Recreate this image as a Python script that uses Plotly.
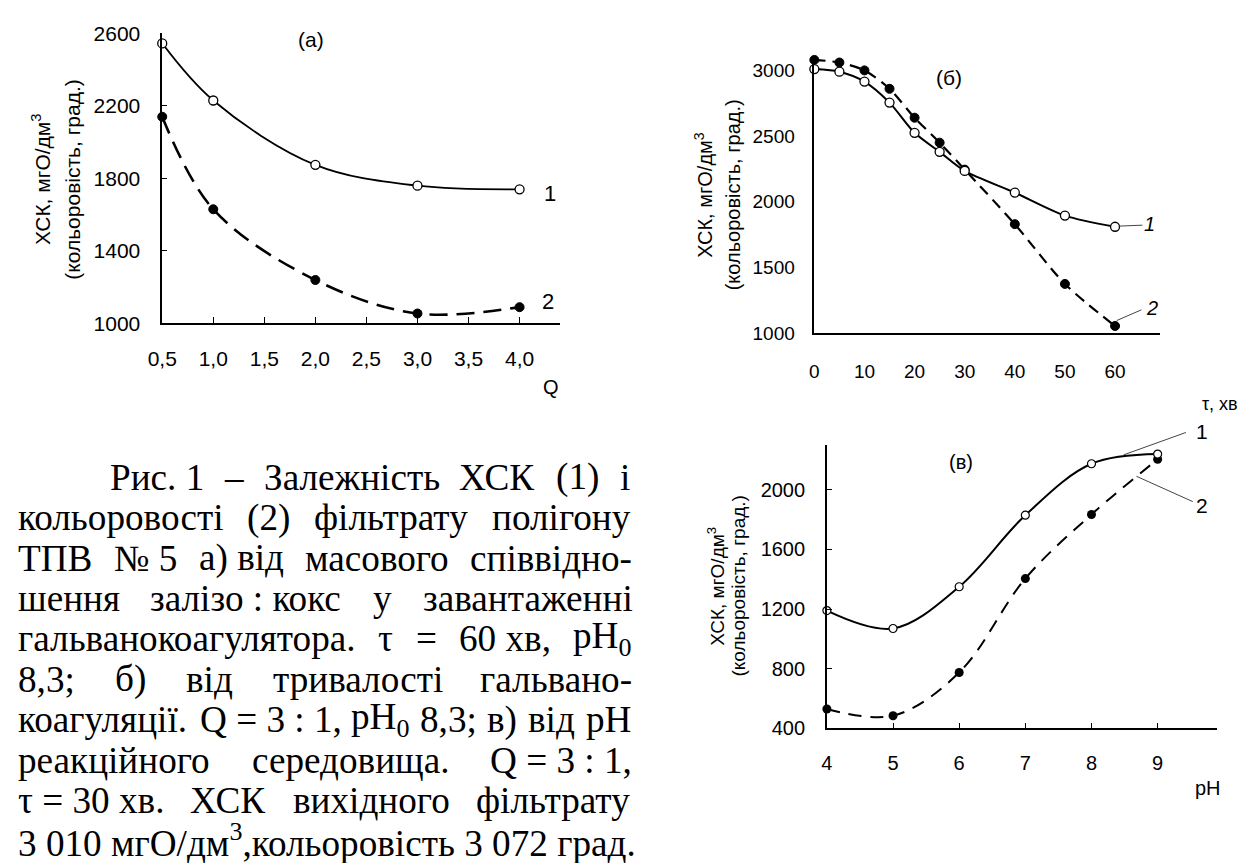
import glob
import struct
import plotly.graph_objects as go

# ---------------- data ----------------
q_vals = [0.5, 1.0, 2.0, 3.0, 4.0]
a_xck = [2545, 2230, 1875, 1760, 1740]
a_color = [2140, 1630, 1240, 1055, 1090]
q_ticks = [0.5, 1.0, 1.5, 2.0, 2.5, 3.0, 3.5, 4.0]
a_yticks = [1000, 1400, 1800, 2200, 2600]

tau_vals = [0, 5, 10, 15, 20, 25, 30, 40, 50, 60]
b_xck = [3010, 2990, 2915, 2755, 2525, 2380, 2235, 2070, 1895, 1810]
b_color = [3080, 3060, 3000, 2860, 2640, 2450, 2245, 1830, 1375, 1055]
tau_ticks = [0, 10, 20, 30, 40, 50, 60]
b_yticks = [1000, 1500, 2000, 2500, 3000]

ph_vals = [4, 5, 6, 7, 8, 9]
v_xck = [1190, 1070, 1350, 1830, 2175, 2240]
v_color = [530, 485, 775, 1405, 1835, 2205]
ph_ticks = [4, 5, 6, 7, 8, 9]
v_yticks = [400, 800, 1200, 1600, 2000]

ytitle1 = "ХСК, мгО/дм<sup>3</sup>"
ytitle2 = "(кольоровість, град.)"

# caption: word groups of each justified line (last line is left aligned)
caption_lines = [
    ["Рис. 1", "–", "Залежність", "ХСК", "(1)", "і"],
    ["кольоровості", "(2)", "фільтрату", "полігону"],
    ["ТПВ", "№ 5", "а) від", "масового", "співвідно-"],
    ["шення", "залізо : кокс", "у", "завантаженні"],
    ["гальванокоагулятора.", "τ", "=", "60 хв,", "pH<sub>0</sub>"],
    ["8,3;", "б)", "від", "тривалості", "гальвано-"],
    ["коагуляції.", "Q = 3 : 1,", "pH<sub>0</sub>", "8,3;", "в)", "від", "pH"],
    ["реакційного", "середовища.", "Q = 3 : 1,"],
    ["τ = 30 хв.", "ХСК", "вихідного", "фільтрату"],
    ["3 010 мгО/дм<sup>3</sup>,кольоровість 3 072 град."],
]

# ---------------- helpers ----------------
W, H = 1256, 863
SANS = "Liberation Sans, Arial, sans-serif"
SERIF = "Liberation Serif, Times New Roman, serif"


def px(x):
    return x / W


def py(y):
    return 1 - y / H


def fmt_comma(v):
    return f"{v:.1f}".replace(".", ",")


def parse_ttf(path):
    data = open(path, "rb").read()
    num = struct.unpack(">H", data[4:6])[0]
    tables = {}
    for i in range(num):
        off = 12 + 16 * i
        tag = data[off:off + 4].decode("latin-1")
        _, offset, length = struct.unpack(">III", data[off + 4:off + 16])
        tables[tag] = offset
    head = tables["head"]
    upem = struct.unpack(">H", data[head + 18:head + 20])[0]
    hhea = tables["hhea"]
    nhm = struct.unpack(">H", data[hhea + 34:hhea + 36])[0]
    hm = tables["hmtx"]
    adv = [struct.unpack(">H", data[hm + 4 * i:hm + 4 * i + 2])[0] for i in range(nhm)]
    cm = tables["cmap"]
    n = struct.unpack(">H", data[cm + 2:cm + 4])[0]
    sub = None
    for i in range(n):
        pid, eid, so = struct.unpack(">HHI", data[cm + 4 + 8 * i:cm + 12 + 8 * i])
        fmt = struct.unpack(">H", data[cm + so:cm + so + 2])[0]
        if pid == 3 and eid == 1 and fmt == 4:
            sub = cm + so
    segx2 = struct.unpack(">H", data[sub + 6:sub + 8])[0]
    seg = segx2 // 2
    ends = struct.unpack(">%dH" % seg, data[sub + 14:sub + 14 + segx2])
    so_ = sub + 16 + segx2
    starts = struct.unpack(">%dH" % seg, data[so_:so_ + segx2])
    do_ = so_ + segx2
    deltas = struct.unpack(">%dh" % seg, data[do_:do_ + segx2])
    ro_ = do_ + segx2
    ros = struct.unpack(">%dH" % seg, data[ro_:ro_ + segx2])

    def width(c):
        code = ord(c)
        g = 0
        for k in range(seg):
            if starts[k] <= code <= ends[k]:
                if ros[k] == 0:
                    g = (code + deltas[k]) & 0xFFFF
                else:
                    addr = ro_ + 2 * k + ros[k] + 2 * (code - starts[k])
                    gg = struct.unpack(">H", data[addr:addr + 2])[0]
                    g = (gg + deltas[k]) & 0xFFFF if gg else 0
                break
        a = adv[g] if g < nhm else adv[-1]
        return a / upem

    return width


char_w = None
for pat in ["/usr/share/fonts/**/LiberationSerif-Regular.ttf", "/usr/**/LiberationSerif-Regular.ttf"]:
    for path in glob.glob(pat, recursive=True):
        try:
            char_w = parse_ttf(path)
            break
        except Exception:
            char_w = None
    if char_w:
        break
if char_w is None:
    def char_w(c):
        return 0.25 if c == " " else 0.5


def text_em(s):
    total, scale, i = 0.0, 1.0, 0
    while i < len(s):
        if s.startswith("<sub>", i) or s.startswith("<sup>", i):
            scale = 0.7
            i += 5
            continue
        if s.startswith("</sub>", i) or s.startswith("</sup>", i):
            scale = 1.0
            i += 6
            continue
        total += char_w(s[i]) * scale
        i += 1
    return total


fig = go.Figure()

open_marker = dict(symbol="circle", size=9, color="white", line=dict(color="black", width=1.3))
fill_marker = dict(symbol="circle", size=9, color="black", line=dict(color="black", width=1))

# (a)
fig.add_trace(go.Scatter(x=q_vals, y=a_xck, mode="lines+markers", xaxis="x", yaxis="y",
                         line=dict(color="black", width=1.8, shape="spline", smoothing=1.0),
                         marker=open_marker, cliponaxis=False, showlegend=False))
fig.add_trace(go.Scatter(x=q_vals, y=a_color, mode="lines+markers", xaxis="x", yaxis="y",
                         line=dict(color="black", width=2.6, shape="spline", smoothing=1.0, dash="18px,9px"),
                         marker=fill_marker, cliponaxis=False, showlegend=False))
# (б)
fig.add_trace(go.Scatter(x=tau_vals, y=b_color, mode="lines+markers", xaxis="x2", yaxis="y2",
                         line=dict(color="black", width=2.2, shape="spline", smoothing=0.8, dash="11px,7px"),
                         marker=fill_marker, cliponaxis=False, showlegend=False))
fig.add_trace(go.Scatter(x=tau_vals, y=b_xck, mode="lines+markers", xaxis="x2", yaxis="y2",
                         line=dict(color="black", width=2.0, shape="spline", smoothing=0.8),
                         marker=open_marker, cliponaxis=False, showlegend=False))
# (в)
fig.add_trace(go.Scatter(x=ph_vals, y=v_color, mode="lines+markers", xaxis="x3", yaxis="y3",
                         line=dict(color="black", width=2.0, shape="spline", smoothing=1.0, dash="13px,9px"),
                         marker=dict(symbol="circle", size=9, color="black"), cliponaxis=False, showlegend=False))
fig.add_trace(go.Scatter(x=ph_vals, y=v_xck, mode="lines+markers", xaxis="x3", yaxis="y3",
                         line=dict(color="black", width=2.0, shape="spline", smoothing=1.0),
                         marker=dict(symbol="circle", size=8, color="white", line=dict(color="black", width=1.2)),
                         cliponaxis=False, showlegend=False))

axis_common = dict(showline=True, linecolor="black", linewidth=1.5, showgrid=False, zeroline=False,
                   tickcolor="black", tickwidth=1.3)

fig.update_layout(
    width=W, height=H,
    margin=dict(l=0, r=0, t=0, b=0),
    paper_bgcolor="white", plot_bgcolor="white",
    font=dict(family=SANS, color="black"),
    xaxis=dict(axis_common, domain=[px(149), px(552)], range=[0.5, 4.4], anchor="y",
               tickvals=q_ticks, ticktext=[fmt_comma(v) for v in q_ticks],
               ticks="inside", ticklen=7, tickfont=dict(size=21, family=SANS), ticklabelstandoff=16),
    yaxis=dict(axis_common, domain=[py(320), py(22)], range=[1000, 2600], anchor="x",
               tickvals=a_yticks, ticks="inside", ticklen=5,
               tickfont=dict(size=21, family=SANS), ticklabelstandoff=16),
    xaxis2=dict(axis_common, domain=[px(809), px(1159)], range=[0, 69], anchor="y2",
                tickvals=tau_ticks, ticks="", tickfont=dict(size=19, family=SANS), ticklabelstandoff=20),
    yaxis2=dict(axis_common, domain=[py(330), py(46.5)], range=[1000, 3100], anchor="x2",
                tickvals=b_yticks, ticks="", tickfont=dict(size=19, family=SANS), ticklabelstandoff=14),
    xaxis3=dict(axis_common, domain=[px(821.7), px(1216.7)], range=[4, 9.9], anchor="y3",
                tickvals=ph_ticks, ticks="inside", ticklen=6, tickfont=dict(size=20, family=SANS),
                ticklabelstandoff=16),
    yaxis3=dict(axis_common, domain=[py(736), py(445)], range=[400, 2300], anchor="x3",
                tickvals=v_yticks, ticks="inside", ticklen=5, tickfont=dict(size=20, family=SANS),
                ticklabelstandoff=16),
)

ann = []


def text(x, y, s, size=20, family=SANS, angle=0, xanchor="center", italic=False):
    if italic:
        s = f"<i>{s}</i>"
    ann.append(dict(x=px(x), y=py(y), xref="paper", yref="paper", text=s, showarrow=False,
                    font=dict(size=size, family=family, color="black"), textangle=angle,
                    xanchor=xanchor, yanchor="middle", borderpad=0))


# y titles
text(27, 172, ytitle1, size=21, angle=-90)
text(58, 172, ytitle2, size=21, angle=-90)
text(697, 188, ytitle1, size=20, angle=-90)
text(727, 188, ytitle2, size=20, angle=-90)
text(710, 590, ytitle1, size=19, angle=-90)
text(732, 590, ytitle2, size=19, angle=-90)

# panel labels
text(300, 28, "(а)", size=21)
text(945, 67, "(б)", size=21)
text(957, 462, "(в)", size=20)

# axis names
text(542, 385, "Q", size=20)
text(1220, 403, "τ, хв", size=18)
text(1207, 797, "pH", size=20)

# curve labels
text(541, 186, "1", size=22)
text(539, 297, "2", size=22)
text(1148, 218, "1", size=20, italic=True)
text(1151, 304, "2", size=20, italic=True)
text(1201, 431, "1", size=21)
text(1201, 507, "2", size=21)

# caption, justified between left and right edges
CAP_L, CAP_R, CAP_INDENT = 2, 622, 95
last_em = text_em(caption_lines[-1][0])
cap_size = round((CAP_R - CAP_L) / last_em, 1)
for i, groups in enumerate(caption_lines):
    yy = 478 + 41.5 * i
    left = CAP_INDENT if i == 0 else CAP_L
    widths = [text_em(g) * cap_size for g in groups]
    if len(groups) > 1 and i < len(caption_lines) - 1:
        gap = max((CAP_R - left - sum(widths)) / (len(groups) - 1), 0.15 * cap_size)
    else:
        gap = 0.25 * cap_size
    xx = left
    for g, w in zip(groups, widths):
        text(xx, yy, g, size=cap_size, family=SERIF, xanchor="left")
        xx += w + gap

fig.update_layout(annotations=ann)

# leader lines
shapes = []
for (x0, y0, x1, y1) in [(1117, 220, 1141, 219), (1115, 317, 1140, 306),
                         (1122, 455, 1185, 432), (1135, 477, 1192, 503)]:
    shapes.append(dict(type="line", xref="paper", yref="paper", x0=px(x0), y0=py(y0), x1=px(x1), y1=py(y1),
                       line=dict(color="#444", width=1)))
fig.update_layout(shapes=shapes)

fig.write_html("out.html", config={"displayModeBar": False},
               post_script="document.body.style.margin='0px';document.body.style.overflow='hidden';")
